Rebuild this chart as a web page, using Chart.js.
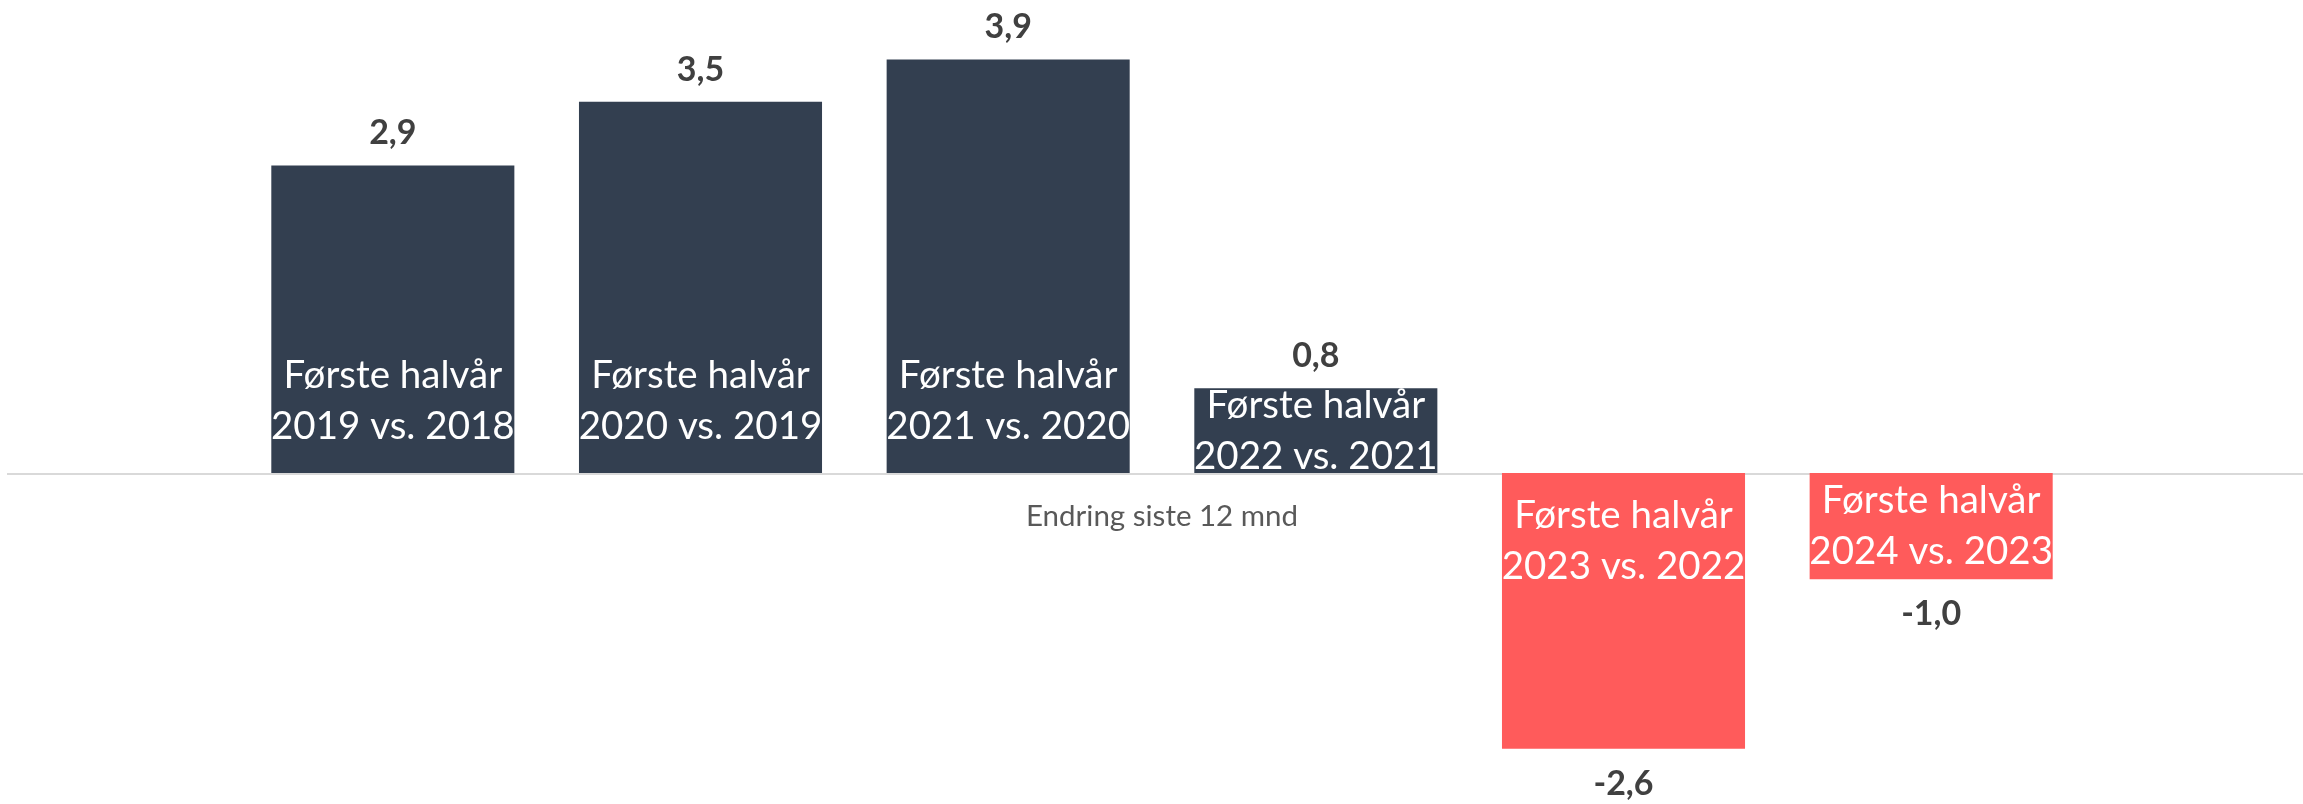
<!DOCTYPE html>
<html lang="no">
<head>
<meta charset="utf-8">
<title>Endring siste 12 mnd</title>
<script src="https://cdn.jsdelivr.net/npm/chart.js@4/dist/chart.umd.min.js"></script>
<style>
    html, body { margin: 0; padding: 0; background: #fff; }
    #boks { width: 2303px; height: 804px; position: relative; }
</style>
</head>
<body>
<div id="boks"><canvas id="graf"></canvas></div>
<script>
// Kategorier (to linjer per søyle)
const kategorier = [
    ['Første halvår', '2019 vs. 2018'],
    ['Første halvår', '2020 vs. 2019'],
    ['Første halvår', '2021 vs. 2020'],
    ['Første halvår', '2022 vs. 2021'],
    ['Første halvår', '2023 vs. 2022'],
    ['Første halvår', '2024 vs. 2023']
];
const verdier = [2.9, 3.5, 3.9, 0.8, -2.6, -1.0];
const akseTittel = 'Endring siste 12 mnd';

const farger = {
    positiv: '#333F50', // mørk blågrå
    negativ: '#FF5B5B', // rød
    akse: '#D9D9D9',
    verdi: '#404040',
    tittel: '#595959'
};
const font = 'Lato, "Open Sans", sans-serif';

const formater = v => v.toFixed(1).replace('.', ',');

// Nullinje og aksetittel under søylene
const nullLinje = {
    id: 'nullLinje',
    beforeDatasetsDraw(chart) {
        const ctx = chart.ctx;
        const y0 = chart.scales.y.getPixelForValue(0);
        ctx.save();
        ctx.strokeStyle = farger.akse;
        ctx.lineWidth = 2;
        ctx.beginPath();
        ctx.moveTo(7, y0 + 1);
        ctx.lineTo(chart.width, y0 + 1);
        ctx.stroke();

        ctx.fillStyle = farger.tittel;
        ctx.font = '29.5px ' + font;
        ctx.textAlign = 'center';
        ctx.textBaseline = 'middle';
        ctx.fillText(akseTittel, 1162, y0 + 43);
        ctx.restore();
    }
};

// Etiketter: kategori inni søylen, verdi utenfor
const etiketter = {
    id: 'etiketter',
    afterDatasetsDraw(chart) {
        const ctx = chart.ctx;
        const meta = chart.getDatasetMeta(0);
        ctx.save();
        ctx.textAlign = 'center';
        ctx.textBaseline = 'middle';
        meta.data.forEach((el, i) => {
            const v = verdier[i];
            const retning = v >= 0 ? -1 : 1;
            const h = Math.abs(el.base - el.y);
            const midt = el.base + retning * Math.min(v >= 0 ? 72 : 68, h / 2);

            ctx.fillStyle = '#FFFFFF';
            ctx.font = '38.5px ' + font;
            ctx.fillText(kategorier[i][0], el.x, midt - 25.5);
            ctx.fillText(kategorier[i][1], el.x, midt + 25.5);

            ctx.fillStyle = farger.verdi;
            ctx.font = 'bold 34px ' + font;
            ctx.fillText(formater(v), el.x, el.y + retning * (v >= 0 ? 32 : 35));
        });
        ctx.restore();
    }
};

new Chart(document.getElementById('graf'), {
    type: 'bar',
    data: {
        labels: kategorier,
        datasets: [{
            label: akseTittel,
            data: verdier,
            backgroundColor: verdier.map(v => v >= 0 ? farger.positiv : farger.negativ),
            borderWidth: 0,
            categoryPercentage: 1,
            barPercentage: 0.79
        }]
    },
    options: {
        responsive: true,
        maintainAspectRatio: false,
        animation: false,
        layout: { padding: { left: 239, right: 218, top: 0, bottom: 0 } },
        scales: {
            x: { display: false },
            y: { display: false, min: -3.12, max: 4.46 }
        },
        plugins: {
            legend: { display: false },
            tooltip: { enabled: false }
        }
    },
    plugins: [nullLinje, etiketter]
});
</script>
</body>
</html>
